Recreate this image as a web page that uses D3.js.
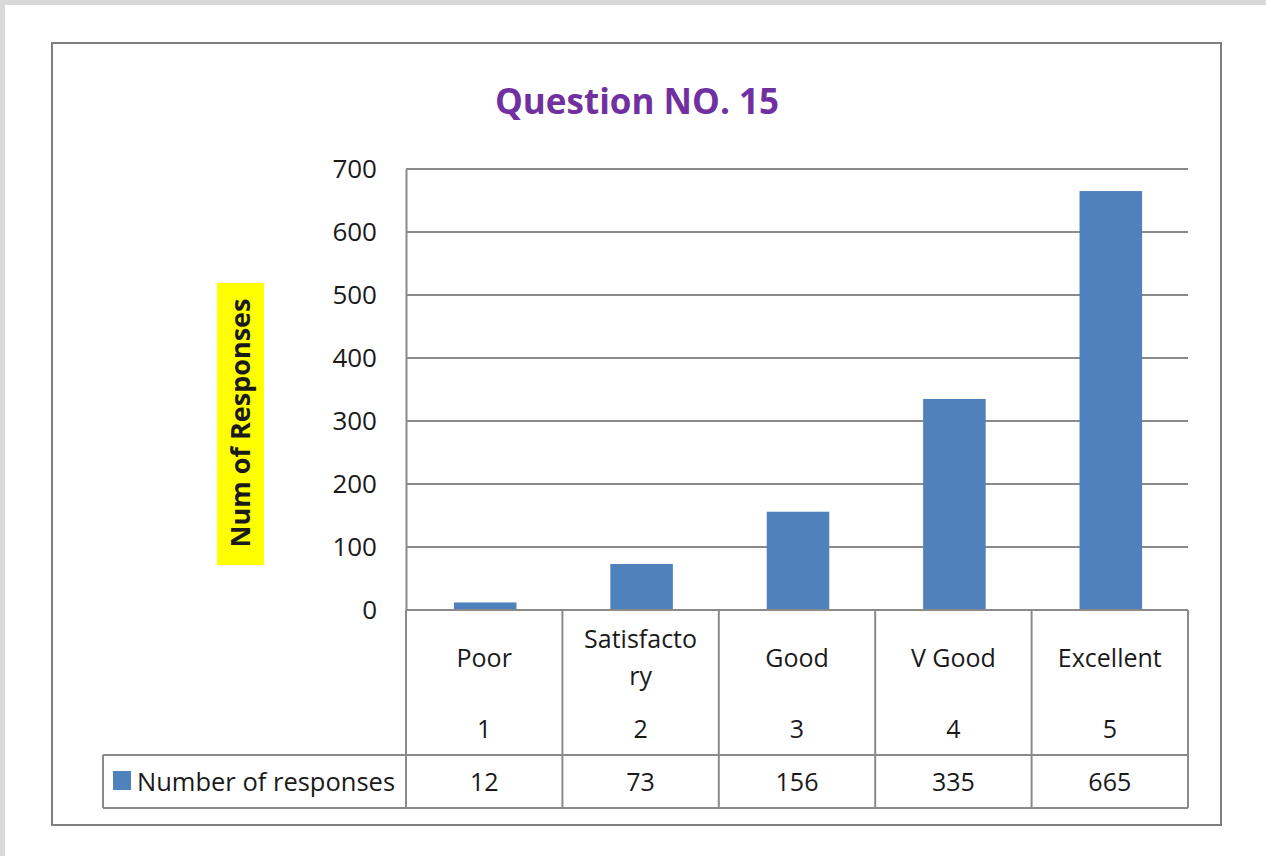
<!DOCTYPE html>
<html>
<head>
<meta charset="utf-8">
<script src="https://cdn.jsdelivr.net/npm/d3@7"></script>
<style>
  body { margin: 0; background: #fff; }
  svg { display: block; }
  text { font-family: "Open Sans", "Noto Sans", sans-serif; fill: #1a1a1a; }
</style>
</head>
<body>
<div id="chart"></div>
<script>
// chart values
const categories = ["Poor", "Satisfactory", "Good", "V Good", "Excellent"];
const indexLabels = ["1", "2", "3", "4", "5"];
const responses = [12, 73, 156, 335, 665];
const yTicks = [0, 100, 200, 300, 400, 500, 600, 700];
const seriesName = "Number of responses";
const chartTitle = "Question NO. 15";
const yTitle = "Num of Responses";

const width = 1266;
const height = 856;
const plotLeft = 406, plotRight = 1188, plotTop = 169, plotBottom = 610;
const rowSplit = 755, tableBottom = 808, legendLeft = 103;
const lineColor = "#8a8a8a";
const barColor = "#4f81bd";

const svg = d3
  .select("#chart")
  .append("svg")
  .attr("width", width)
  .attr("height", height);

// page background with grey strip top/left
svg.append("rect").attr("width", width).attr("height", height).attr("fill", "#d9d9d9");
svg.append("rect").attr("x", 5).attr("y", 5).attr("width", width - 5).attr("height", height - 5).attr("fill", "#fff");

// chart border
svg
  .append("rect")
  .attr("x", 52)
  .attr("y", 43)
  .attr("width", 1169)
  .attr("height", 782)
  .attr("fill", "#fff")
  .attr("stroke", "#7f7f7f")
  .attr("stroke-width", 2);

// title
svg
  .append("text")
  .attr("x", 637)
  .attr("y", 114)
  .attr("text-anchor", "middle")
  .style("font-size", "35px")
  .style("font-weight", "bold")
  .style("fill", "#7030a0")
  .text(chartTitle);

// scales
const x = d3.scaleBand().domain(categories).range([plotLeft, plotRight]).padding(0);
const y = d3.scaleLinear().domain([0, 700]).range([plotBottom, plotTop]);

// gridlines
svg
  .append("g")
  .selectAll("line")
  .data(yTicks.filter((d) => d > 0))
  .enter()
  .append("line")
  .attr("x1", plotLeft)
  .attr("x2", plotRight)
  .attr("y1", (d) => y(d))
  .attr("y2", (d) => y(d))
  .attr("stroke", lineColor)
  .attr("stroke-width", 2);

// y axis
const yAxis = svg
  .append("g")
  .attr("id", "y-axis")
  .attr("transform", `translate(${plotLeft},0)`)
  .call(d3.axisLeft(y).tickValues(yTicks).tickSize(0).tickPadding(29));
yAxis.select(".domain").attr("stroke", lineColor).attr("stroke-width", 2);
yAxis
  .selectAll("text")
  .style("font-size", "26px")
  .style("font-family", '"Open Sans", sans-serif')
  .attr("fill", "#1a1a1a");

// y title with yellow box
svg
  .append("rect")
  .attr("x", 217)
  .attr("y", 283)
  .attr("width", 47)
  .attr("height", 282)
  .attr("fill", "#ffff00");
svg
  .append("text")
  .attr("transform", "translate(250,423) rotate(-90)")
  .attr("text-anchor", "middle")
  .style("font-size", "27px")
  .style("font-weight", "bold")
  .text(yTitle);

// bars
const barW = x.bandwidth() * 0.4;
svg
  .selectAll(".bar")
  .data(responses)
  .enter()
  .append("rect")
  .attr("class", "bar")
  .attr("x", (d, i) => x(categories[i]) + (x.bandwidth() - barW) / 2 + 1)
  .attr("y", (d) => y(d))
  .attr("width", barW)
  .attr("height", (d) => plotBottom - y(d))
  .attr("fill", barColor);

// data table
const table = svg.append("g").attr("stroke", lineColor).attr("stroke-width", 2);
table.append("line").attr("x1", plotLeft).attr("x2", plotRight).attr("y1", plotBottom).attr("y2", plotBottom);
table.append("line").attr("x1", legendLeft).attr("x2", plotRight).attr("y1", rowSplit).attr("y2", rowSplit);
table.append("line").attr("x1", legendLeft).attr("x2", plotRight).attr("y1", tableBottom).attr("y2", tableBottom);
table.append("line").attr("x1", legendLeft).attr("x2", legendLeft).attr("y1", rowSplit).attr("y2", tableBottom);
table
  .selectAll(".col")
  .data(categories.map((c) => x(c)).concat([plotRight]))
  .enter()
  .append("line")
  .attr("x1", (d) => d)
  .attr("x2", (d) => d)
  .attr("y1", plotBottom)
  .attr("y2", tableBottom);

const cx = (i) => x(categories[i]) + x.bandwidth() / 2;

// category labels (wrap long ones like Excel does)
categories.forEach((c, i) => {
  const lines = c.length > 10 ? [c.slice(0, 10), c.slice(10)] : [c];
  const t = svg
    .append("text")
    .attr("text-anchor", "middle")
    .style("font-size", "25px");
  lines.forEach((l, k) => {
    t.append("tspan")
      .attr("x", cx(i))
      .attr("y", lines.length > 1 ? 648 + k * 37 : 667)
      .text(l);
  });
});

svg
  .selectAll(".idx")
  .data(indexLabels)
  .enter()
  .append("text")
  .attr("x", (d, i) => cx(i))
  .attr("y", 738)
  .attr("text-anchor", "middle")
  .style("font-size", "25px")
  .text((d) => d);

svg
  .selectAll(".val")
  .data(responses)
  .enter()
  .append("text")
  .attr("x", (d, i) => cx(i))
  .attr("y", 791)
  .attr("text-anchor", "middle")
  .style("font-size", "25px")
  .text((d) => d);

// legend key in table
svg
  .append("rect")
  .attr("x", 113)
  .attr("y", 771)
  .attr("width", 18)
  .attr("height", 19)
  .attr("fill", barColor);
svg
  .append("text")
  .attr("x", 137)
  .attr("y", 791)
  .style("font-size", "25.5px")
  .text(seriesName);
</script>
</body>
</html>
